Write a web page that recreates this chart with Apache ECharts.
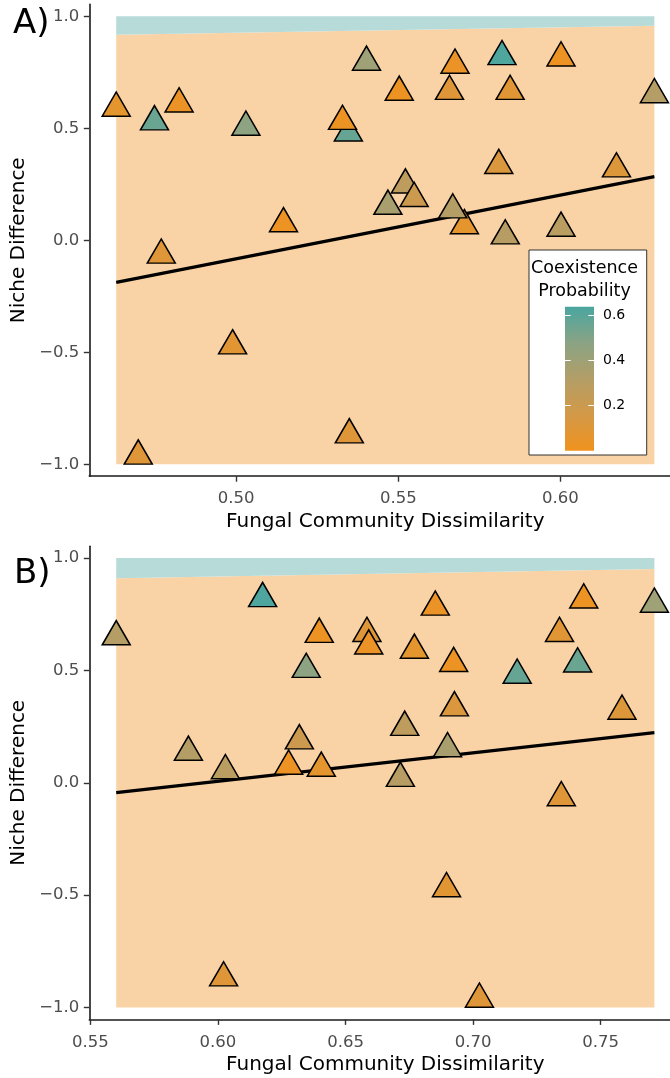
<!DOCTYPE html>
<html>
<head>
<meta charset="utf-8">
<script src="https://cdn.jsdelivr.net/npm/echarts@6/dist/echarts.min.js"></script>
<style>
  html, body { margin: 0; padding: 0; background: #ffffff; }
  #chart { width: 670px; height: 1078px; }
</style>
</head>
<body>
<div id="chart"></div>
<script>
// Species pairs: niche difference and coexistence probability are shared by both panels,
// fungal community dissimilarity differs between the two panels.
const nicheDiff = [0.820, 0.814, 0.795, 0.782, 0.665, 0.665, 0.661, 0.650, 0.609, 0.590,
                   0.479, 0.531, 0.529, 0.505, 0.334, 0.319, 0.247, 0.187, 0.152, 0.065,
                   0.136, 0.074, 0.054, 0.020, -0.066, -0.471, -0.868, -0.963];
const coexProb  = [0.63, 0.02, 0.40, 0.03, 0.10, 0.09, 0.02, 0.31, 0.03, 0.06,
                   0.57, 0.02, 0.56, 0.47, 0.12, 0.11, 0.27, 0.20, 0.36, 0.06,
                   0.31, 0.02, 0.29, 0.30, 0.10, 0.08, 0.10, 0.10];
const dissimA   = [0.5820, 0.6002, 0.5402, 0.5675, 0.5658, 0.5845, 0.5503, 0.6290, 0.4824, 0.4630,
                   0.5346, 0.5328, 0.4748, 0.5030, 0.5810, 0.6173, 0.5522, 0.5549, 0.5468, 0.5704,
                   0.5668, 0.5146, 0.6002, 0.5830, 0.4769, 0.4989, 0.5349, 0.4698];
const dissimB   = [0.6175, 0.7434, 0.7711, 0.6852, 0.6584, 0.7339, 0.6397, 0.5601, 0.6591, 0.6770,
                   0.7173, 0.6924, 0.7410, 0.6346, 0.6927, 0.7584, 0.6732, 0.6319, 0.6900, 0.6405,
                   0.5884, 0.6277, 0.6029, 0.6715, 0.7346, 0.6896, 0.6022, 0.7025];

// Fitted trend, niche difference at the lowest and highest dissimilarity
const trendA = [-0.1875, 0.284];
const trendB = [-0.044, 0.223];
// Boundary between the coexistence and exclusion regions at both ends of the x range
const regionA = [0.918, 0.958];
const regionB = [0.910, 0.951];
const regionY = [-1, 1];

const yTicks = [-1, -0.5, 0, 0.5, 1];
const xTicksA = [0.50, 0.55, 0.60];
const xTicksB = [0.55, 0.60, 0.65, 0.70, 0.75];
const probTicks = [0.2, 0.4, 0.6];
const probRange = [0, 0.64];
const yLimits = [-1.053, 1.053];

const palette = ['#F0921E', '#D39947', '#B39E67', '#8AA384', '#4AA6A0'];
const lowFill = '#F9D3A6';
const highFill = '#B7DBD9';
const FONT = 'DejaVu Sans';

const chart = echarts.init(document.getElementById('chart'), null, { renderer: 'canvas' });

function fmt(v, d) { return v.toFixed(d).replace('-', '\u2212'); }
function extent(arr) { return [Math.min.apply(null, arr), Math.max.apply(null, arr)]; }

const panels = [
  { x: dissimA, trend: trendA, region: regionA, ticks: xTicksA, top: 4.4, height: 471.8 },
  { x: dissimB, trend: trendB, region: regionB, ticks: xTicksB, top: 546.2, height: 473.2 }
];

const grids = [], xAxes = [], yAxes = [], series = [];

panels.forEach(function (p, i) {
  const ext = extent(p.x);
  const pad = (ext[1] - ext[0]) * 0.05;
  // the panel runs past the right edge of the page, so it is not fitted into the container
  grids.push({ left: 89.3, top: p.top, width: 592, height: p.height,
               containLabel: false, outerBoundsMode: 'none' });
  xAxes.push({
    type: 'value', gridIndex: i, min: ext[0] - pad, max: ext[1] + pad,
    name: 'Fungal Community Dissimilarity', nameLocation: 'middle', nameGap: 35.5,
    nameTextStyle: { fontFamily: FONT, fontSize: 20, color: '#000' },
    axisLine: { show: true, onZero: false, lineStyle: { color: '#1a1a1a', width: 1.6 } },
    axisTick: { show: true, length: 5.5, customValues: p.ticks, lineStyle: { color: '#333', width: 1.4 } },
    axisLabel: { customValues: p.ticks, margin: 14.5, fontFamily: FONT, fontSize: 16.5, color: '#4D4D4D',
                 formatter: function (v) { return fmt(v, 2); } },
    splitLine: { show: false }
  });
  yAxes.push({
    type: 'value', gridIndex: i, min: yLimits[0], max: yLimits[1],
    name: 'Niche Difference', nameLocation: 'middle', nameGap: 46,
    nameTextStyle: { fontFamily: FONT, fontSize: 20, color: '#000' },
    axisLine: { show: true, onZero: false, lineStyle: { color: '#1a1a1a', width: 1.6 } },
    axisTick: { show: true, length: 5.5, customValues: yTicks, lineStyle: { color: '#333', width: 1.4 } },
    axisLabel: { customValues: yTicks, margin: 10, fontFamily: FONT, fontSize: 16.5, color: '#4D4D4D',
                 formatter: function (v) { return fmt(v, 1); } },
    splitLine: { show: false }
  });

  // shaded regions: exclusion below the boundary, coexistence above it
  series.push({
    type: 'custom', xAxisIndex: i, yAxisIndex: i, z: 1, silent: true,
    data: [[ext[0], ext[1]]],
    renderItem: function (params, api) {
      const x0 = ext[0], x1 = ext[1];
      const a = api.coord([x0, regionY[0]]), b = api.coord([x1, regionY[0]]);
      const c = api.coord([x1, p.region[1]]), d = api.coord([x0, p.region[0]]);
      const e = api.coord([x1, regionY[1]]), f = api.coord([x0, regionY[1]]);
      return {
        type: 'group',
        children: [
          { type: 'polygon', shape: { points: [a, b, c, d] }, style: { fill: lowFill } },
          { type: 'polygon', shape: { points: [d, c, e, f] }, style: { fill: highFill } }
        ]
      };
    }
  });
  // fitted trend
  series.push({
    type: 'line', xAxisIndex: i, yAxisIndex: i, z: 2, silent: true,
    symbol: 'none', data: [[ext[0], p.trend[0]], [ext[1], p.trend[1]]],
    lineStyle: { color: '#000', width: 3.2 }
  });
  // species pairs
  series.push({
    type: 'scatter', xAxisIndex: i, yAxisIndex: i, z: 3,
    symbol: 'triangle', symbolSize: [28, 24.2], symbolOffset: [0, -4.03],
    data: nicheDiff.map(function (y, k) { return [p.x[k], y, coexProb[k]]; }),
    itemStyle: { borderColor: '#000', borderWidth: 1.5, borderJoin: 'miter', opacity: 1 },
    emphasis: { disabled: true }
  });
});

// colour bar of the legend
grids.push({ left: 565, top: 306.7, width: 29, height: 144, containLabel: false, outerBoundsMode: 'none' });
xAxes.push({ type: 'value', gridIndex: 2, min: 0, max: 1, show: false });
const barTick = { show: true, inside: true, length: 5.7, customValues: probTicks, lineStyle: { color: '#ffffff', width: 1 } };
yAxes.push({
  type: 'value', gridIndex: 2, position: 'left', min: probRange[0], max: probRange[1], z: 12,
  axisLine: { show: false }, axisTick: barTick, axisLabel: { show: false }, splitLine: { show: false }
});
yAxes.push({
  type: 'value', gridIndex: 2, position: 'right', min: probRange[0], max: probRange[1], z: 12,
  axisLine: { show: false }, axisTick: barTick, splitLine: { show: false },
  axisLabel: { customValues: probTicks, margin: 9, fontFamily: FONT, fontSize: 14, color: '#000',
               formatter: function (v) { return v.toFixed(1); } }
});
series.push({
  type: 'custom', xAxisIndex: 2, yAxisIndex: 2, z: 11, silent: true,
  data: [[0, probRange[0]]],
  renderItem: function (params, api) {
    const lo = api.coord([0, probRange[0]]), hi = api.coord([1, probRange[1]]);
    return {
      type: 'rect',
      shape: { x: lo[0], y: hi[1], width: hi[0] - lo[0], height: lo[1] - hi[1] },
      style: {
        fill: new echarts.graphic.LinearGradient(0, 1, 0, 0,
          palette.map(function (c, j) { return { offset: j / (palette.length - 1), color: c }; }))
      }
    };
  }
});

chart.setOption({
  animation: false,
  textStyle: { fontFamily: FONT },
  grid: grids,
  xAxis: xAxes,
  yAxis: yAxes,
  visualMap: {
    type: 'continuous', show: false, dimension: 2, seriesIndex: [2, 5],
    min: probRange[0], max: probRange[1], inRange: { color: palette }
  },
  graphic: [
    { type: 'text', x: 13, y: 7, z: 20, style: { text: 'A)', font: '34px "DejaVu Sans"', fill: '#000' } },
    { type: 'text', x: 14, y: 557, z: 20, style: { text: 'B)', font: '34px "DejaVu Sans"', fill: '#000' } },
    { type: 'rect', z: 10, shape: { x: 529, y: 250, width: 117.7, height: 205 },
      style: { fill: '#ffffff', stroke: '#333333', lineWidth: 1 } },
    { type: 'text', x: 584.5, y: 256.5, z: 11,
      style: { text: 'Coexistence\nProbability', font: '17.5px "DejaVu Sans"', fill: '#000',
               align: 'center', verticalAlign: 'top', lineHeight: 23.4 } }
  ],
  series: series
});
</script>
</body>
</html>
